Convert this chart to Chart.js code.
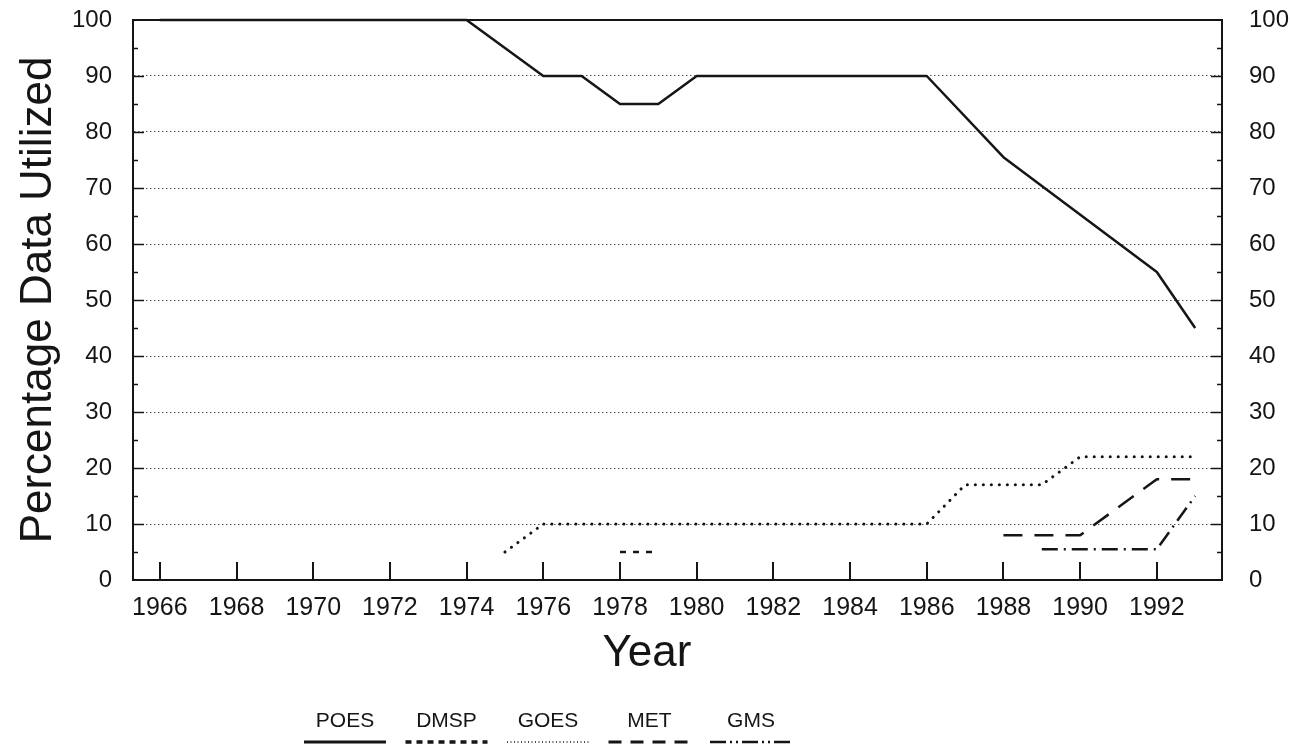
<!DOCTYPE html>
<html>
<head>
<meta charset="utf-8">
<script src="https://cdn.jsdelivr.net/npm/chart.js@4.4.1/dist/chart.umd.min.js"></script>
<style>
  html, body { margin: 0; padding: 0; background: #ffffff; }
  #wrap { width: 1290px; height: 749px; }
</style>
</head>
<body>
<div id="wrap"><canvas id="c" width="1290" height="749"></canvas></div>
<script>
// ---- data ----
const xTickYears = [1966, 1968, 1970, 1972, 1974, 1976, 1978, 1980, 1982, 1984, 1986, 1988, 1990, 1992];
const yTickValues = [0, 10, 20, 30, 40, 50, 60, 70, 80, 90, 100];

const seriesNames = ['POES', 'DMSP', 'GOES', 'MET', 'GMS'];

const poesYears  = [1966, 1974, 1976, 1977, 1978, 1979, 1980, 1986, 1988, 1992, 1993];
const poesValues = [100, 100, 90, 90, 85, 85, 90, 90, 75.5, 55, 45];

const dmspYears  = [1978, 1979];
const dmspValues = [5, 5];

const goesYears  = [1975, 1976, 1986, 1987, 1989, 1990, 1993];
const goesValues = [5, 10, 10, 17, 17, 22, 22];

const metYears   = [1988, 1990, 1992, 1993];
const metValues  = [8, 8, 18, 18];

const gmsYears   = [1989, 1992, 1993];
const gmsValues  = [5.5, 5.5, 15];

// ---- helpers ----
const INK = '#151515';
const mctx = document.createElement('canvas').getContext('2d');
function hasFont(name) {
  mctx.font = '40px "' + name + '", monospace';
  const a = mctx.measureText('1966 POES Year').width;
  mctx.font = '40px monospace';
  const b = mctx.measureText('1966 POES Year').width;
  return Math.abs(a - b) > 0.5;
}
const hasNarrow = hasFont('Liberation Sans Narrow');
const narrowFam = hasNarrow ? 'Liberation Sans Narrow' : 'Liberation Sans';
function fitSize(fam, text, w) {
  mctx.font = '100px "' + fam + '"';
  return 100 * w / mctx.measureText(text).width;
}
const xTickSize = hasNarrow ? fitSize(narrowFam, '1966', 54) : 25;
const legendSize = hasNarrow ? fitSize(narrowFam, 'POES', 54) : 21;
const xTickPad = Math.max(2, 28 - 0.6 * xTickSize);

function pts(xs, ys) { return xs.map((x, i) => ({ x: x, y: ys[i] })); }

const common = { pointRadius: 0, tension: 0, fill: false, borderColor: INK, clip: false, borderJoinStyle: 'round' };

const datasets = [
  Object.assign({}, common, { label: seriesNames[0], data: pts(poesYears, poesValues), borderWidth: 2.5, borderDash: [], legendDash: [], legendWidth: 3 }),
  Object.assign({}, common, { label: seriesNames[1], data: pts(dmspYears, dmspValues), borderWidth: 2.5, borderDash: [6, 7], legendDash: [6, 5], legendWidth: 3.5 }),
  Object.assign({}, common, { label: seriesNames[2], data: pts(goesYears, goesValues), borderWidth: 3, borderDash: [0.1, 7.9], borderCapStyle: 'round', legendDash: [1, 2.5], legendWidth: 1.6 }),
  Object.assign({}, common, { label: seriesNames[3], data: pts(metYears, metValues), borderWidth: 2.5, borderDash: [19, 12], legendDash: [13, 9], legendWidth: 3 }),
  Object.assign({}, common, { label: seriesNames[4], data: pts(gmsYears, gmsValues), borderWidth: 2.5, borderDash: [16, 6, 2, 6], legendDash: [16, 4, 2, 4, 2, 4], legendWidth: 2.5 })
];

// frame + inside tick marks
const framePlugin = {
  id: 'frame',
  beforeDatasetsDraw(chart) {
    const { ctx, chartArea: a, scales } = chart;
    ctx.save();
    ctx.strokeStyle = INK;
    ctx.lineCap = 'butt';
    ctx.lineWidth = 2;
    ctx.beginPath(); ctx.moveTo(a.left, a.top); ctx.lineTo(a.right, a.top); ctx.stroke();
    ctx.lineWidth = 1.5;
    for (let v = 5; v < 100; v += 5) {
      const y = Math.round(scales.y.getPixelForValue(v)) + 0.5;
      const len = (v % 10 === 0) ? 11 : 5;
      ctx.beginPath(); ctx.moveTo(a.left, y); ctx.lineTo(a.left + len, y); ctx.stroke();
      ctx.beginPath(); ctx.moveTo(a.right - len, y); ctx.lineTo(a.right, y); ctx.stroke();
    }
    ctx.lineWidth = 2;
    xTickYears.forEach(yr => {
      const x = Math.round(scales.x.getPixelForValue(yr));
      ctx.beginPath(); ctx.moveTo(x, a.bottom); ctx.lineTo(x, a.bottom - 18); ctx.stroke();
    });
    ctx.restore();
  }
};

// legend: name above, line sample below
const legendPlugin = {
  id: 'stackLegend',
  afterDraw(chart, args, opts) {
    const { ctx } = chart;
    ctx.save();
    ctx.fillStyle = INK;
    ctx.textAlign = 'center';
    ctx.textBaseline = 'middle';
    ctx.font = legendSize.toFixed(1) + 'px "' + narrowFam + '"';
    chart.data.datasets.forEach((ds, i) => {
      const cx = opts.startX + i * opts.step;
      ctx.fillText(ds.label, cx, opts.textY);
      ctx.strokeStyle = INK;
      ctx.lineWidth = ds.legendWidth;
      ctx.setLineDash(ds.legendDash);
      ctx.beginPath();
      ctx.moveTo(cx - opts.sampleW / 2, opts.lineY);
      ctx.lineTo(cx + opts.sampleW / 2, opts.lineY);
      ctx.stroke();
    });
    ctx.restore();
  }
};

function noVerticalPad(s) { s.paddingTop = 0; s.paddingBottom = 0; }

new Chart(document.getElementById('c'), {
  type: 'line',
  data: { datasets: datasets },
  plugins: [framePlugin, legendPlugin],
  options: {
    responsive: false,
    animation: false,
    devicePixelRatio: 1,
    layout: { padding: { left: 0, right: 0, top: 20, bottom: 69 } },
    plugins: {
      legend: { display: false },
      tooltip: { enabled: false },
      stackLegend: { startX: 345, step: 101.5, textY: 721, lineY: 742, sampleW: 82 }
    },
    scales: {
      x: {
        type: 'linear', min: 1965.3, max: 1993.7,
        afterBuildTicks: s => { s.ticks = xTickYears.map(v => ({ value: v })); },
        afterFit: s => { s.height = 100; },
        ticks: {
          autoSkip: false, maxRotation: 0, minRotation: 0, padding: xTickPad, color: INK,
          font: { family: narrowFam, size: xTickSize },
          callback: v => String(v)
        },
        grid: { display: false, drawTicks: false },
        border: { display: true, color: INK, width: 2 },
        title: { display: true, text: 'Year     ', color: INK, font: { family: 'Liberation Sans', size: 44 }, padding: { top: 0, bottom: 0 } }
      },
      y: {
        min: 0, max: 100,
        afterBuildTicks: s => { s.ticks = yTickValues.map(v => ({ value: v })); },
        afterFit: s => { s.width = 133; noVerticalPad(s); },
        ticks: { padding: 21, color: INK, font: { family: 'Liberation Sans', size: 24 } },
        grid: {
          drawTicks: false, lineWidth: 1,
          color: c => (c.tick && (c.tick.value === 0 || c.tick.value === 100)) ? 'rgba(0,0,0,0)' : '#555555'
        },
        border: { display: true, color: INK, width: 2, dash: [1.5, 2.5] },
        title: { display: true, text: 'Percentage Data Utilized', color: INK, font: { family: 'Liberation Sans', size: 44 }, padding: { top: 12, bottom: 0 } }
      },
      y2: {
        position: 'right', min: 0, max: 100,
        afterBuildTicks: s => { s.ticks = yTickValues.map(v => ({ value: v })); },
        afterFit: s => { s.width = 68; noVerticalPad(s); },
        ticks: { padding: 27, color: INK, font: { family: 'Liberation Sans', size: 24 } },
        grid: { display: false, drawTicks: false },
        border: { display: true, color: INK, width: 2 }
      }
    }
  }
});
</script>
</body>
</html>
